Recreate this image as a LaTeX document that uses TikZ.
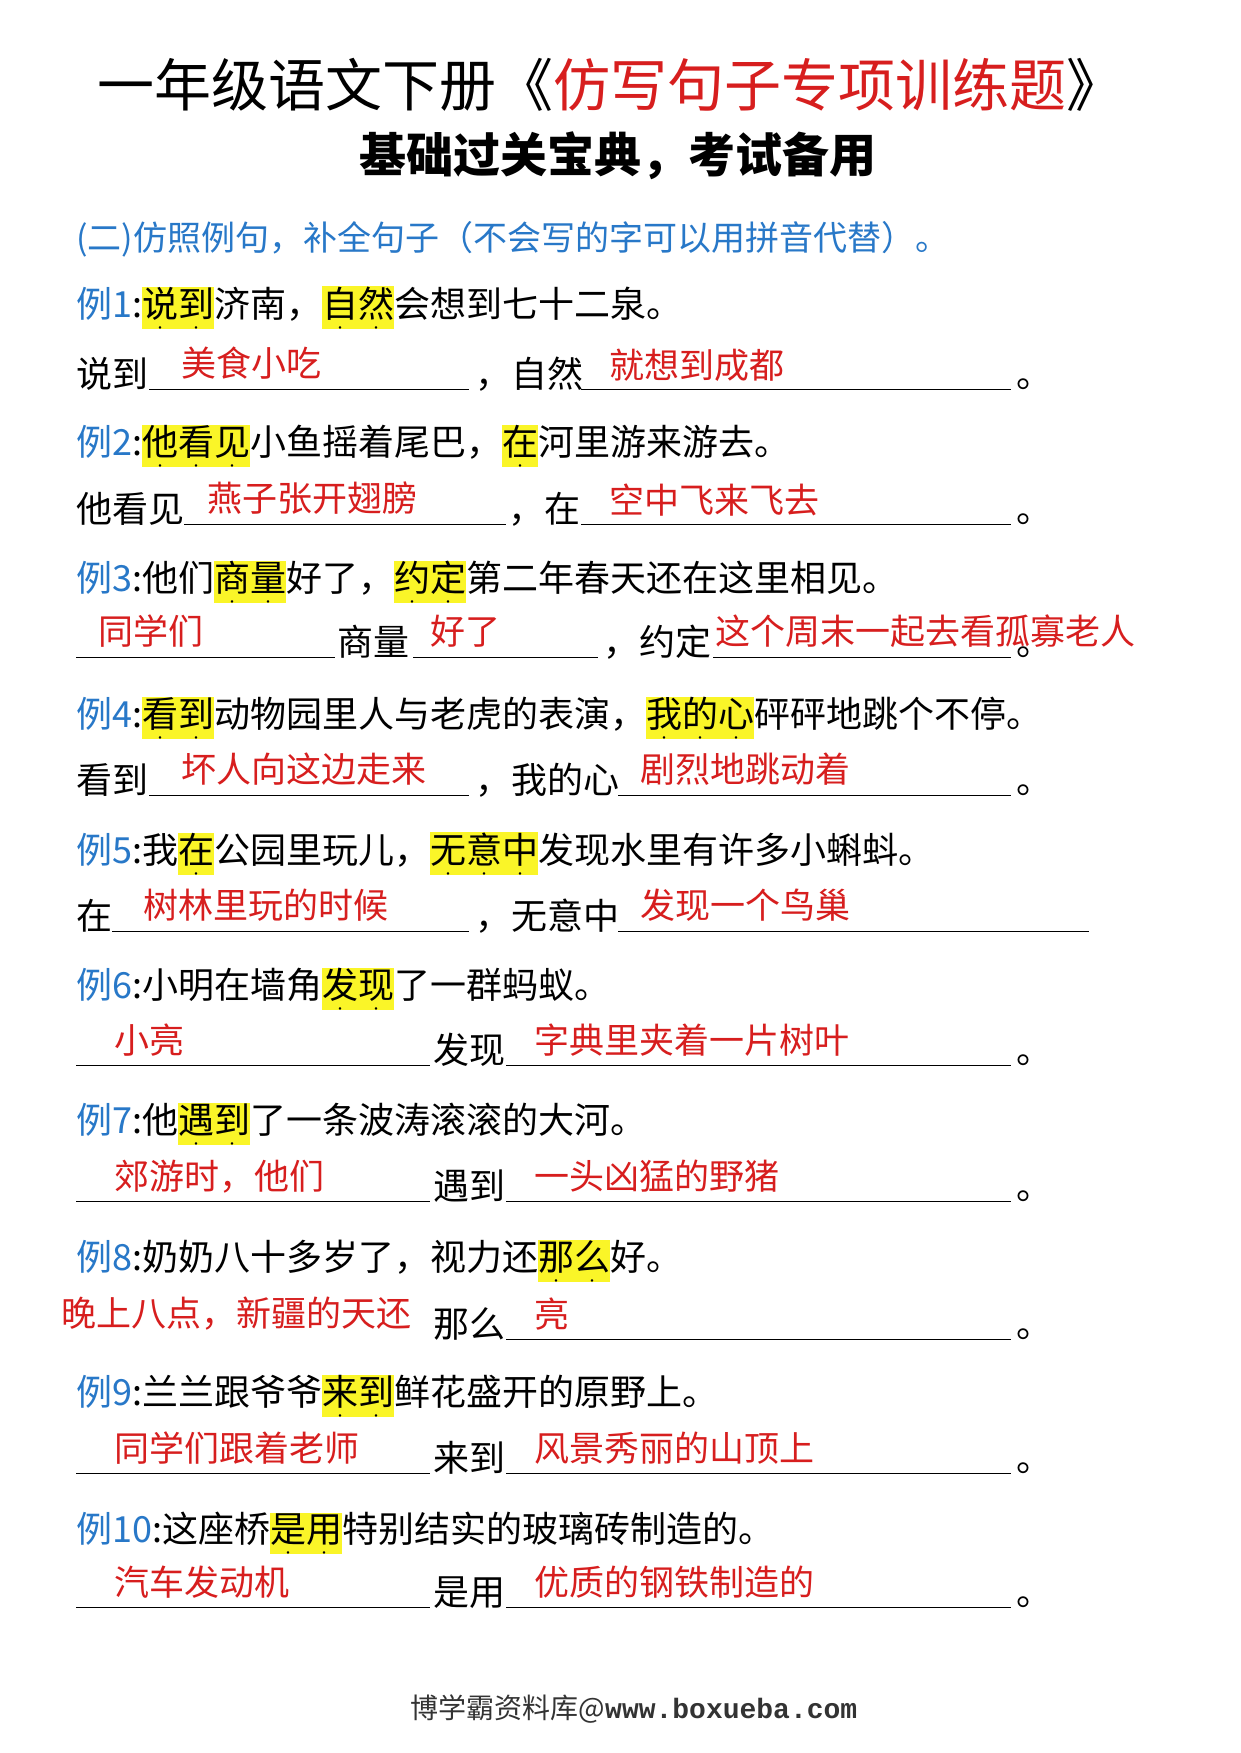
\documentclass[tikz,border=0pt]{standalone}
\usepackage{fontspec}
\setmainfont{Noto Sans CJK SC}
\newfontfamily\monof{Liberation Mono}
\definecolor{exblue}{RGB}{40,120,200}
\definecolor{ansred}{RGB}{215,30,30}
\definecolor{hly}{RGB}{250,245,40}
\newcommand\dt[1]{\ooalign{#1\cr\hidewidth\smash{\raisebox{-0.42em}{\fontsize{12}{12}\selectfont\textbullet}}\hidewidth\cr}}
\newcommand\hl[1]{{\setlength\fboxsep{0pt}\colorbox{hly}{\strut #1}}}
\tikzset{
 txt/.style={anchor=base west,inner sep=0pt,font=\fontsize{36}{40}\selectfont},
 ans/.style={anchor=base west,inner sep=0pt,text=ansred,font=\fontsize{35}{40}\selectfont},
 ex/.style={anchor=base west,inner sep=0pt,font=\fontsize{36}{40}\selectfont},
 bl/.style={line width=1pt}
}
\begin{document}
\begin{tikzpicture}[x=1pt,y=-1pt]
\useasboundingbox (0,0) rectangle (1240,1753);
\fill[white] (0,0) rectangle (1240,1753);
\node[anchor=base,inner sep=0pt,font=\fontsize{57}{60}\selectfont] (t1) at (610,106) {一年级语文下册《\textcolor{ansred}{仿写句子专项训练题}》};
\node[anchor=base,inner sep=0pt,font=\fontsize{47}{50}\selectfont\bfseries] (t2) at (618,172) {基础过关宝典，考试备用};
\node[anchor=base west,inner sep=0pt,text=exblue,font=\fontsize{34}{40}\selectfont] (sub) at (76,250) {(二)仿照例句，补全句子（不会写的字可以用拼音代替）。};
% examples
\node[ex] (e1) at (76,317) {\textcolor{exblue}{例1}:\hl{\dt{说}\dt{到}}济南，\hl{\dt{自}\dt{然}}会想到七十二泉。};
\node[ex] (e2) at (76,455) {\textcolor{exblue}{例2}:\hl{\dt{他}\dt{看}\dt{见}}小鱼摇着尾巴，\hl{\dt{在}}河里游来游去。};
\node[ex] (e3) at (76,591) {\textcolor{exblue}{例3}:他们\hl{\dt{商}\dt{量}}好了，\hl{\dt{约}\dt{定}}第二年春天还在这里相见。};
\node[ex] (e4) at (76,727) {\textcolor{exblue}{例4}:\hl{\dt{看}\dt{到}}动物园里人与老虎的表演，\hl{\dt{我}\dt{的}\dt{心}}砰砰地跳个不停。};
\node[ex] (e5) at (76,863) {\textcolor{exblue}{例5}:我\hl{\dt{在}}公园里玩儿，\hl{\dt{无}\dt{意}\dt{中}}发现水里有许多小蝌蚪。};
\node[ex] (e6) at (76,998) {\textcolor{exblue}{例6}:小明在墙角\hl{\dt{发}\dt{现}}了一群蚂蚁。};
\node[ex] (e7) at (76,1133) {\textcolor{exblue}{例7}:他\hl{\dt{遇}\dt{到}}了一条波涛滚滚的大河。};
\node[ex] (e8) at (76,1270) {\textcolor{exblue}{例8}:奶奶八十多岁了，视力还\hl{\dt{那}\dt{么}}好。};
\node[ex] (e9) at (76,1405) {\textcolor{exblue}{例9}:兰兰跟爷爷\hl{\dt{来}\dt{到}}鲜花盛开的原野上。};
\node[ex] (e10) at (76,1542) {\textcolor{exblue}{例10}:这座桥\hl{\dt{是}\dt{用}}特别结实的玻璃砖制造的。};
% row 1
\node[txt] (r1a) at (76,387) {说到};
\draw[bl] (149,389) -- (469,389); \node[ans] (a1a) at (181,376) {美食小吃};
\node[txt] (r1b) at (475,387) {，自然};
\draw[bl] (581,389) -- (1011,389); \node[ans] (a1b) at (609,378) {就想到成都};
\node[txt] (p1) at (1016,387) {。};
% row 2
\node[txt] (r2a) at (76,522) {他看见};
\draw[bl] (184,524) -- (506,524); \node[ans] (a2a) at (207,511) {燕子张开翅膀};
\node[txt] (r2b) at (508,522) {，在};
\draw[bl] (581,524) -- (1011,524); \node[ans] (a2b) at (609,513) {空中飞来飞去};
\node[txt] (p2) at (1016,522) {。};
% row 3
\draw[bl] (76,657) -- (335,657); \node[ans] (a3a) at (98,644) {同学们};
\node[txt] (r3a) at (337,655) {商量};
\draw[bl] (413,657) -- (598,657); \node[ans] (a3b) at (430,644) {好了};
\node[txt] (r3b) at (603,655) {，约定};
\draw[bl] (713,657) -- (1011,657); \node[ans] (a3c) at (715,644) {这个周末一起去看孤寡老人};
\node[txt] (p3) at (1016,655) {。};
% row 4
\node[txt] (r4a) at (76,793) {看到};
\draw[bl] (149,795) -- (469,795); \node[ans] (a4a) at (181,782) {坏人向这边走来};
\node[txt] (r4b) at (475,793) {，我的心};
\draw[bl] (618,795) -- (1011,795); \node[ans] (a4b) at (640,782) {剧烈地跳动着};
\node[txt] (p4) at (1016,793) {。};
% row 5
\node[txt] (r5a) at (76,929) {在};
\draw[bl] (112,931) -- (469,931); \node[ans] (a5a) at (143,918) {树林里玩的时候};
\node[txt] (r5b) at (475,929) {，无意中};
\draw[bl] (618,931) -- (1089,931); \node[ans] (a5b) at (640,918) {发现一个鸟巢};
% row 6
\draw[bl] (76,1065) -- (430,1065); \node[ans] (a6a) at (114,1053) {小亮};
\node[txt] (r6a) at (433,1063) {发现};
\draw[bl] (506,1065) -- (1011,1065); \node[ans] (a6b) at (534,1053) {字典里夹着一片树叶};
\node[txt] (p6) at (1016,1063) {。};
% row 7
\draw[bl] (76,1201) -- (430,1201); \node[ans] (a7a) at (114,1189) {郊游时，他们};
\node[txt] (r7a) at (433,1199) {遇到};
\draw[bl] (506,1201) -- (1011,1201); \node[ans] (a7b) at (534,1189) {一头凶猛的野猪};
\node[txt] (p7) at (1016,1199) {。};
% row 8
\node[ans] (a8a) at (61,1326) {晚上八点，新疆的天还};
\node[txt] (r8a) at (433,1337) {那么};
\draw[bl] (506,1339) -- (1011,1339); \node[ans] (a8b) at (534,1327) {亮};
\node[txt] (p8) at (1016,1337) {。};
% row 9
\draw[bl] (76,1473) -- (430,1473); \node[ans] (a9a) at (114,1461) {同学们跟着老师};
\node[txt] (r9a) at (433,1471) {来到};
\draw[bl] (506,1473) -- (1011,1473); \node[ans] (a9b) at (534,1461) {风景秀丽的山顶上};
\node[txt] (p9) at (1016,1471) {。};
% row 10
\draw[bl] (76,1607) -- (430,1607); \node[ans] (a10a) at (114,1595) {汽车发动机};
\node[txt] (r10a) at (433,1605) {是用};
\draw[bl] (506,1607) -- (1011,1607); \node[ans] (a10b) at (534,1595) {优质的钢铁制造的};
\node[txt] (p10) at (1016,1605) {。};
% footer
\node[anchor=base,inner sep=0pt,text=black!80,font=\fontsize{28}{30}\selectfont] (ft) at (634,1718) {博学霸资料库@{\monof\bfseries www.boxueba.com}};
\end{tikzpicture}
\end{document}
